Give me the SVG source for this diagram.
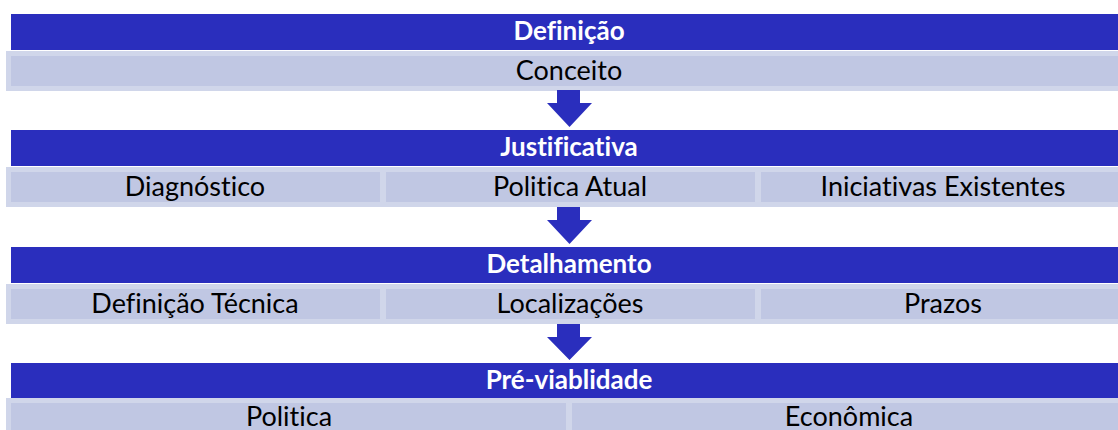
<svg xmlns="http://www.w3.org/2000/svg" width="1118" height="430" viewBox="0 0 1118 430">
<style>
.hdr{fill:#2a2ebd}
.cell{fill:#c0c7e3;stroke:#d0d6ea;stroke-width:5}
.ht{font-family:Lato,"Liberation Sans",sans-serif;font-weight:bold;font-size:26px;fill:#ffffff;text-anchor:middle;font-variant-ligatures:none}
.ct{font-family:Lato,"Liberation Sans",sans-serif;font-size:27px;fill:#000000;text-anchor:middle;font-variant-ligatures:none}
.arr{fill:#2a2ebd}
</style>
<rect width="1118" height="430" fill="#ffffff"/>
<g id="definicao">
<rect class="hdr" x="11" y="14" width="1120" height="36"/>
<text class="ht" x="569" y="40">Definição</text>
<rect class="cell" x="8.5" y="53.5" width="1122" height="35"/>
<text class="ct" x="569" y="80">Conceito</text>
</g>
<g id="justificativa">
<rect class="hdr" x="11" y="130" width="1120" height="36"/>
<text class="ht" x="569" y="156">Justificativa</text>
<rect class="cell" x="8.5" y="169.5" width="374" height="35"/>
<text class="ct" x="195" y="196">Diagnóstico</text>
<rect class="cell" x="383.5" y="169.5" width="374" height="35"/>
<text class="ct" x="570" y="196">Politica Atual</text>
<rect class="cell" x="758.5" y="169.5" width="374" height="35"/>
<text class="ct" x="943" y="196">Iniciativas Existentes</text>
</g>
<g id="detalhamento">
<rect class="hdr" x="11" y="247" width="1120" height="36"/>
<text class="ht" x="569" y="273">Detalhamento</text>
<rect class="cell" x="8.5" y="286.5" width="374" height="35"/>
<text class="ct" x="195" y="313">Definição Técnica</text>
<rect class="cell" x="383.5" y="286.5" width="374" height="35"/>
<text class="ct" x="570" y="313">Localizações</text>
<rect class="cell" x="758.5" y="286.5" width="374" height="35"/>
<text class="ct" x="943" y="313">Prazos</text>
</g>
<g id="previablidade">
<rect class="hdr" x="11" y="363" width="1120" height="35"/>
<text class="ht" x="569" y="389">Pré-viablidade</text>
<rect class="cell" x="8.5" y="400.5" width="560" height="40"/>
<text class="ct" x="289" y="426">Politica</text>
<rect class="cell" x="569.5" y="400.5" width="560" height="40"/>
<text class="ct" x="849" y="426">Econômica</text>
</g>
<g id="connectors">
<path class="arr" d="M557,90 H580 V103 H592 L569.5,127 L547,103 H557 Z"/>
<path class="arr" d="M557,207 H580 V220 H592 L569.5,244 L547,220 H557 Z"/>
<path class="arr" d="M557,324 H580 V337 H592 L569.5,360 L547,337 H557 Z"/>
</g>
</svg>
